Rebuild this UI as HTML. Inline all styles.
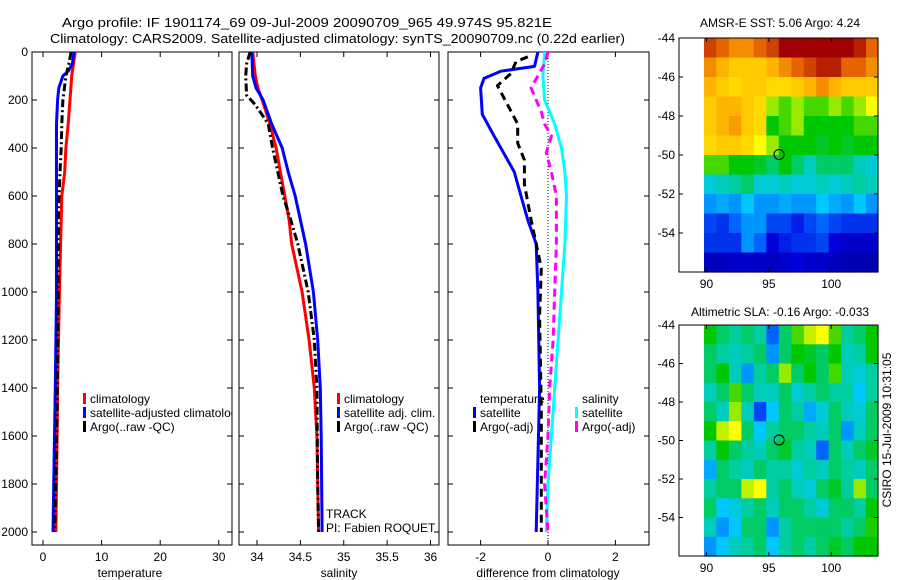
<!DOCTYPE html>
<html><head><meta charset="utf-8"><style>
body{margin:0;background:#fff;}
svg{display:block;font-family:"Liberation Sans",sans-serif;}
text{font-size:12px;fill:#000;}
</style></head><body>
<svg id="fig" width="900" height="580" viewBox="0 0 900 580">
<defs><clipPath id="p1clip"><rect x="32" y="52" width="200" height="493"/></clipPath></defs>
<text x="62" y="27" textLength="490" lengthAdjust="spacingAndGlyphs" style="font-size:13px">Argo profile: IF 1901174_69 09-Jul-2009 20090709_965 49.974S 95.821E</text>
<text x="50" y="43" textLength="575" lengthAdjust="spacingAndGlyphs" style="font-size:13px">Climatology: CARS2009. Satellite-adjusted climatology: synTS_20090709.nc (0.22d earlier)</text>
<text x="780" y="27" text-anchor="middle">AMSR-E SST: 5.06 Argo: 4.24</text>
<text x="780" y="316" text-anchor="middle">Altimetric SLA: -0.16 Argo: -0.033</text>
<text transform="translate(891,430) rotate(-90)" text-anchor="middle">CSIRO 15-Jul-2009 10:31:05</text>
<text x="130" y="577" text-anchor="middle">temperature</text>
<text x="339" y="577" text-anchor="middle">salinity</text>
<text x="548" y="577" text-anchor="middle">difference from climatology</text>
<text x="326" y="518">TRACK</text>
<text x="326" y="532">PI: Fabien ROQUET</text>
</svg>
<script>
// ---- profile data ----
const depthTicks=[0,200,400,600,800,1000,1200,1400,1600,1800,2000];
const tempTicks=[0,10,20,30];
const salTicks=[34,34.5,35,35.5,36];
const diffTicks=[-2,0,2];
const tClimD=[0,100,200,300,400,500,600,800,1000,1400,1600,2000];
const tClimV=[5.5,4.9,4.6,4.3,3.9,3.7,3.2,3.0,2.8,2.5,2.4,2.2];
const tSatD=[0,50,80,100,150,200,300,600,1000,1400,1700,2000];
const tSatV=[5.3,5.0,4.3,3.4,2.7,2.5,2.3,2.3,2.3,2.1,1.9,1.7];
const tArgoD=[0,50,100,200,300,400,500,700,1000,1500,2000];
const tArgoV=[4.8,4.4,3.9,3.4,3.2,3.1,2.9,2.6,2.6,2.4,2.0];
const sClimD=[0,100,150,200,300,400,500,600,700,800,1000,1200,1400,1600,1800,2000];
const sClimV=[33.95,33.98,34.01,34.06,34.15,34.22,34.27,34.32,34.37,34.40,34.52,34.60,34.66,34.69,34.70,34.71];
const sSatD=[0,100,150,200,300,400,500,600,700,800,1000,1200,1400,1600,2000];
const sSatV=[33.94,33.95,33.99,34.07,34.17,34.29,34.36,34.44,34.50,34.56,34.65,34.70,34.73,34.74,34.75];
const sArgoD=[0,50,100,180,220,300,400,500,600,700,800,1000,1200,1400,1800,2000];
const sArgoV=[33.92,33.88,33.87,33.88,33.98,34.13,34.18,34.24,34.30,34.39,34.47,34.59,34.66,34.69,34.70,34.71];
const dTSatD=[0,60,80,110,150,260,350,450,500,600,700,800,1000,1400,2000];
const dTSatV=[-0.3,-0.4,-1.4,-1.9,-2.0,-1.95,-1.6,-1.2,-1.0,-0.8,-0.6,-0.35,-0.3,-0.25,-0.35];
const dTArgoD=[20,40,90,140,220,300,380,450,550,700,900,1100,1500,2000];
const dTArgoV=[-0.6,-0.95,-1.1,-1.5,-1.2,-0.9,-0.9,-0.7,-0.7,-0.5,-0.2,-0.25,-0.2,-0.2];
const dSSatD=[0,100,200,300,400,500,600,800,1000,1200,1400,1600,1800,2000];
const dSSatV=[-0.1,-0.15,-0.1,0.2,0.4,0.5,0.55,0.5,0.4,0.3,0.2,0.1,0.0,-0.05];
const dSArgoD=[0,50,150,250,300,350,420,500,600,800,1000,1200,1400,1600,1800,2000];
const dSArgoV=[0.0,-0.1,-0.5,-0.2,-0.1,0.1,-0.05,0.1,0.25,0.25,0.2,0.15,0.05,0.0,-0.1,0.0];
// ---- map data (colour index 0..1), rows lat -44..-56, cols lon 89.8..103.8 ----
const sstGrid=[
[0.9,0.85,0.8,0.8,0.85,0.9,1,1,1,1,1,1,0.95,0.85],
[0.8,0.75,0.72,0.72,0.72,0.75,0.8,0.85,0.9,0.95,0.95,0.85,0.85,0.8],
[0.75,0.72,0.7,0.72,0.72,0.7,0.7,0.72,0.75,0.8,0.75,0.72,0.72,0.72],
[0.72,0.75,0.75,0.72,0.7,0.6,0.55,0.6,0.55,0.55,0.6,0.55,0.6,0.65],
[0.72,0.75,0.78,0.72,0.7,0.5,0.55,0.6,0.5,0.5,0.5,0.5,0.55,0.55],
[0.7,0.72,0.72,0.7,0.65,0.6,0.5,0.5,0.5,0.48,0.5,0.48,0.5,0.5],
[0.55,0.55,0.5,0.5,0.48,0.45,0.5,0.45,0.4,0.45,0.45,0.45,0.4,0.38],
[0.38,0.4,0.42,0.45,0.38,0.38,0.4,0.38,0.38,0.4,0.38,0.4,0.42,0.4],
[0.3,0.32,0.3,0.35,0.3,0.3,0.32,0.3,0.3,0.35,0.32,0.3,0.35,0.3],
[0.22,0.2,0.25,0.3,0.3,0.22,0.22,0.18,0.22,0.25,0.22,0.2,0.2,0.2],
[0.2,0.2,0.2,0.3,0.25,0.15,0.18,0.2,0.2,0.22,0.15,0.12,0.12,0.12],
[0.1,0.1,0.12,0.12,0.12,0.1,0.12,0.15,0.12,0.12,0.1,0.08,0.08,0.08]];
const slaGrid=[
[.5,.45,.42,.45,.42,.25,.45,.55,.62,.65,.55,.42,.45,.5],
[.45,.42,.4,.42,.45,.3,.45,.5,.48,.45,.5,.4,.42,.5],
[.45,.5,.4,.3,.42,.45,.6,.45,.5,.45,.55,.4,.38,.42],
[.4,.45,.55,.45,.4,.4,.45,.38,.42,.45,.42,.42,.35,.42],
[.45,.4,.6,.4,.22,.35,.45,.42,.32,.38,.45,.4,.38,.45],
[.5,.62,.65,.45,.35,.42,.45,.45,.42,.4,.45,.3,.4,.45],
[.42,.5,.45,.42,.4,.45,.48,.42,.4,.25,.45,.4,.45,.48],
[.32,.45,.42,.4,.45,.42,.42,.38,.42,.4,.45,.42,.4,.45],
[.42,.45,.45,.62,.65,.42,.45,.4,.38,.45,.48,.42,.6,.45],
[.45,.35,.38,.42,.45,.4,.45,.45,.42,.38,.45,.45,.42,.5],
[.4,.3,.35,.45,.45,.3,.42,.45,.45,.45,.45,.42,.45,.52],
[.3,.35,.4,.42,.45,.35,.42,.45,.42,.45,.48,.45,.5,.5]];
const latTicks=[-44,-46,-48,-50,-52,-54];
const lonTicks=[90,95,100];
const argoLon=95.821, argoLat=-49.974;

const NS='http://www.w3.org/2000/svg';
const svg=document.getElementById('fig');
function el(tag,attrs,parent){const e=document.createElementNS(NS,tag);for(const k in attrs)e.setAttribute(k,attrs[k]);(parent||svg).appendChild(e);return e;}
const Y0=52,Y1=545;
const yD=d=>Y0+d*0.24;
const xT=v=>43+v*5.86;
const xS=v=>257+(v-34)*86.75;
const xDf=v=>548+v*33.7;

function frame(x0,x1,name){
  const g=el('g',{});
  
  
  el('rect',{x:x0,y:Y0,width:x1-x0,height:Y1-Y0,fill:'none',stroke:'#000','stroke-width':1},g);
  depthTicks.forEach(d=>{el('line',{x1:x0,x2:x0+5,y1:yD(d),y2:yD(d),stroke:'#000'},g);el('line',{x1:x1-5,x2:x1,y1:yD(d),y2:yD(d),stroke:'#000'},g);});
  return g;
}
function xticks(g,ticks,fx){ticks.forEach(t=>{const x=fx(t);el('line',{x1:x,x2:x,y1:Y0,y2:Y0+5,stroke:'#000'},g);el('line',{x1:x,x2:x,y1:Y1-5,y2:Y1,stroke:'#000'},g);
  const tx=el('text',{x:x,y:561,'text-anchor':'middle'},g);tx.textContent=String(t);});}
function line(D,V,fx,color,name,dash){
  const pts=D.map((d,i)=>fx(V[i]).toFixed(1)+','+yD(d).toFixed(1)).join(' ');
  const p=el('polyline',{points:pts,fill:'none',stroke:color,'stroke-width':3,'stroke-linejoin':'round'});
  if(dash)p.setAttribute('stroke-dasharray',dash);
  
  
}
const g1=frame(32,232,'temperature-panel');
depthTicks.forEach(d=>{const t=el('text',{x:28,y:yD(d)+4,'text-anchor':'end'});t.textContent=d;});
xticks(g1,tempTicks,xT);
line(tClimD,tClimV,xT,'#f00','temp-climatology-line');
line(tSatD,tSatV,xT,'#00f','temp-satellite-line');
line(tArgoD,tArgoV,xT,'#000','temp-argo-line','8,3,2,3');
const g2=frame(239,439,'salinity-panel');
xticks(g2,salTicks,xS);
line(sClimD,sClimV,xS,'#f00','sal-climatology-line');
line(sSatD,sSatV,xS,'#00f','sal-satellite-line');
line(sArgoD,sArgoV,xS,'#000','sal-argo-line','8,3,2,3');
const g3=frame(448,649,'difference-panel');
xticks(g3,diffTicks,xDf);
el('line',{x1:xDf(0),x2:xDf(0),y1:Y0,y2:Y1,stroke:'#000','stroke-width':1,'stroke-dasharray':'1,2'});
line(dTSatD,dTSatV,xDf,'#00f','temp-diff-satellite-line');
line(dTArgoD,dTArgoV,xDf,'#000','temp-diff-argo-line','8,5');
line(dSSatD,dSSatV,xDf,'#0ff','sal-diff-satellite-line');
line(dSArgoD,dSArgoV,xDf,'#f0f','sal-diff-argo-line','8,5');
function legend(x,y,items,name,clip){
  const g=el('g',{});
  
  
  if(clip)g.setAttribute('clip-path',clip);
  items.forEach((it,i)=>{const yy=y+i*14;
    if(it[1])el('rect',{x:x,y:yy-10,width:3,height:11,fill:it[1]},g);
    const t=el('text',{x:x+7,y:yy},g);t.textContent=it[0];});
}
legend(83,403,[['climatology','#f00'],['satellite-adjusted climatology','#00f'],['Argo(..raw -QC)','#000']],'temperature-legend','url(#p1clip)');
legend(337,403,[['climatology','#f00'],['satellite adj. clim.','#00f'],['Argo(..raw -QC)','#000']],'salinity-legend');
legend(473,403,[['temperature',null],['satellite','#00f'],['Argo(-adj)','#000']],'diff-temperature-legend');
legend(575,403,[['salinity',null],['satellite','#0ff'],['Argo(-adj)','#f0f']],'diff-salinity-legend');

const cmapStops=[[0,[0,0,130]],[0.15,[0,0,220]],[0.25,[0,100,255]],[0.35,[0,200,255]],[0.42,[0,205,160]],[0.5,[0,200,0]],[0.58,[110,225,0]],[0.65,[255,255,0]],[0.75,[255,180,0]],[0.85,[230,100,0]],[1,[160,0,0]]];
function cmap(v){v=Math.max(0,Math.min(1,v));
  for(let i=1;i<cmapStops.length;i++){const a=cmapStops[i-1],b=cmapStops[i];
    if(v<=b[0]){const f=(v-a[0])/(b[0]-a[0]);const c=a[1].map((x,k)=>Math.round(x+(b[1][k]-x)*f));return 'rgb('+c.join(',')+')';}}
  return 'rgb(160,0,0)';}
function map(top,bot,grid,name){
  const L=679,R=878,lon0=87.8,lon1=103.75,lat0=-44,lat1=-56;
  const fx=lon=>L+(lon-lon0)/(lon1-lon0)*(R-L);
  const fy=lat=>top+(lat-lat0)/(lat1-lat0)*(bot-top);
  const g=el('g',{});
  
  
  grid.forEach((row,i)=>row.forEach((v,j)=>{
    const la=lat0-i,lo=89.8+j;
    const w=Math.min(fx(lo+1),R)-fx(lo);
    el('rect',{x:fx(lo).toFixed(1),y:fy(la).toFixed(1),width:(w+0.6).toFixed(1),height:(fy(la-1)-fy(la)+0.6).toFixed(1),fill:cmap(v)},g);}));
  el('rect',{x:L,y:top,width:R-L,height:bot-top,fill:'none',stroke:'#000'},g);
  latTicks.forEach(t=>{const y=fy(t);el('line',{x1:L,x2:L+4,y1:y,y2:y,stroke:'#000'},g);el('line',{x1:R-4,x2:R,y1:y,y2:y,stroke:'#000'},g);
    const tx=el('text',{x:L-4,y:y+4,'text-anchor':'end'},g);tx.textContent=t;});
  lonTicks.forEach(t=>{const x=fx(t);el('line',{x1:x,x2:x,y1:bot-4,y2:bot,stroke:'#000'},g);el('line',{x1:x,x2:x,y1:top,y2:top+4,stroke:'#000'},g);
    const tx=el('text',{x:x,y:bot+16,'text-anchor':'middle'},g);tx.textContent=t;});
  const c=el('ellipse',{cx:fx(argoLon),cy:fy(argoLat),rx:5,ry:5,fill:'none',stroke:'#000'},g);
  
  
}
map(38,272,sstGrid,'sst-map');
map(325,556,slaGrid,'sla-map');
</script>
</body></html>
